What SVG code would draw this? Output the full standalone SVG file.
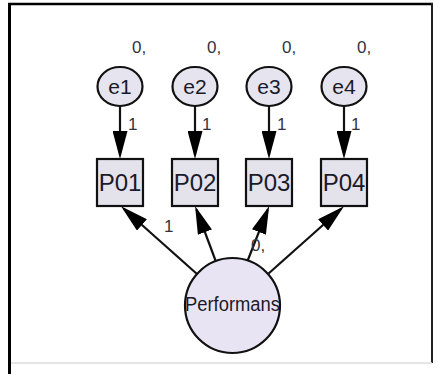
<svg xmlns="http://www.w3.org/2000/svg" width="438" height="374" viewBox="0 0 438 374">
<defs>
<style>
.lat{fill:#e6e4ee;stroke:#111;stroke-width:2.2}
.big{fill:#e9e4f3;stroke:#111;stroke-width:2.2}
.obs{fill:#e4e2ea;stroke:#111;stroke-width:2.2}
.t{font-family:"Liberation Sans",Arial,sans-serif;fill:#1a1a2a;text-anchor:middle}
.lbl{font-family:"Liberation Sans",Arial,sans-serif;fill:#333340;font-size:17px}
.edge{stroke:#111;stroke-width:2.2;fill:none;marker-end:url(#ah)}
</style>
<marker id="ah" markerUnits="userSpaceOnUse" markerWidth="28" markerHeight="15" refX="24" refY="7.5" orient="auto" viewBox="0 0 28 15">
<path d="M0,0 L28,7.5 L0,15 z" fill="#000"/>
</marker>
</defs>
<rect x="0" y="0" width="438" height="374" fill="#fff"/>
<g id="frame" fill="none">
<line x1="9.5" y1="3" x2="9.5" y2="374" stroke="#000" stroke-width="3"/>
<line x1="8" y1="4" x2="433" y2="4" stroke="#000" stroke-width="2.5"/>
<line x1="432" y1="3" x2="432" y2="363" stroke="#222" stroke-width="2"/>
<line x1="11" y1="363" x2="432" y2="363" stroke="#ddd" stroke-width="1.5"/>
</g>
<g id="connectors">
<line class="edge" x1="120" y1="106" x2="120" y2="155"/>
<line class="edge" x1="195" y1="106" x2="195" y2="155"/>
<line class="edge" x1="269" y1="106" x2="269" y2="155"/>
<line class="edge" x1="344" y1="106" x2="344" y2="155"/>
<line class="edge" x1="197" y1="274" x2="124" y2="209"/>
<line class="edge" x1="215.7" y1="261" x2="196.5" y2="209.7"/>
<line class="edge" x1="247.5" y1="261" x2="267.7" y2="209.7"/>
<line class="edge" x1="268" y1="274" x2="341" y2="209"/>
</g>
<g id="e1"><ellipse class="lat" cx="120" cy="86.5" rx="22.5" ry="19.5"/><text class="t" x="120" y="94" font-size="21">e1</text></g>
<g id="e2"><ellipse class="lat" cx="195" cy="86.5" rx="22.5" ry="19.5"/><text class="t" x="195" y="94" font-size="21">e2</text></g>
<g id="e3"><ellipse class="lat" cx="269" cy="86.5" rx="22.5" ry="19.5"/><text class="t" x="269" y="94" font-size="21">e3</text></g>
<g id="e4"><ellipse class="lat" cx="344" cy="86.5" rx="22.5" ry="19.5"/><text class="t" x="344" y="94" font-size="21">e4</text></g>
<g id="P01"><rect class="obs" x="97" y="159" width="46" height="47"/><text class="t" x="120" y="191" font-size="24">P01</text></g>
<g id="P02"><rect class="obs" x="172" y="159" width="46" height="47"/><text class="t" x="195" y="191" font-size="24">P02</text></g>
<g id="P03"><rect class="obs" x="246" y="159" width="46" height="47"/><text class="t" x="269" y="191" font-size="24">P03</text></g>
<g id="P04"><rect class="obs" x="321" y="159" width="46" height="47"/><text class="t" x="344" y="191" font-size="24">P04</text></g>
<g id="Performans"><circle class="big" cx="232.5" cy="305.5" r="47.5"/><text class="t" x="232.5" y="311" font-size="20" textLength="95" lengthAdjust="spacingAndGlyphs">Performans</text></g>
<g id="labels">
<text class="lbl" x="132" y="53">0,</text>
<text class="lbl" x="207" y="53">0,</text>
<text class="lbl" x="282" y="53">0,</text>
<text class="lbl" x="357" y="53">0,</text>
<text class="lbl" x="128" y="130">1</text>
<text class="lbl" x="202" y="130">1</text>
<text class="lbl" x="277" y="130">1</text>
<text class="lbl" x="351" y="130">1</text>
<text class="lbl" x="164" y="232">1</text>
<text class="lbl" x="251" y="251">0,</text>
</g>
</svg>
